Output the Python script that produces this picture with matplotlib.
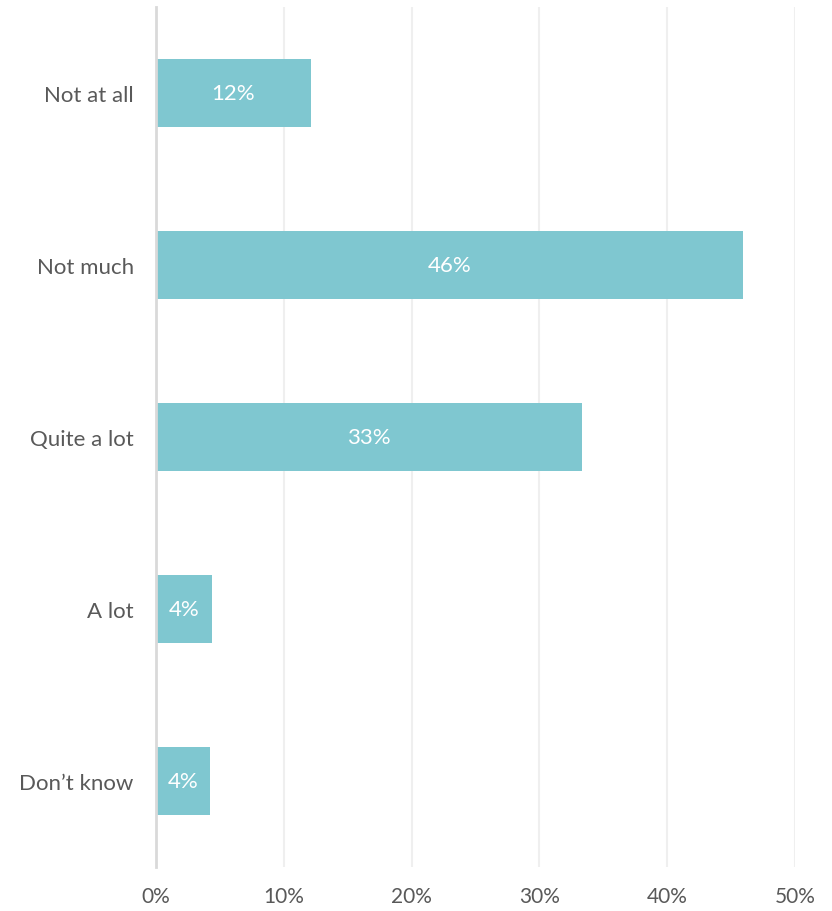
import matplotlib
matplotlib.use("Agg")
import matplotlib.pyplot as plt
from matplotlib.ticker import FuncFormatter

plt.rcParams["font.family"] = ["Lato", "DejaVu Sans"]

categories = ["Not at all", "Not much", "Quite a lot", "A lot", "Don\u2019t know"]
shares = [12.1, 45.9, 33.3, 4.4, 4.2]  # percent of respondents
ticks = [0, 10, 20, 30, 40, 50]

bar_color = "#7FC7D0"
text_color = "#595959"

fig = plt.figure(figsize=(8.32, 9.12), dpi=100)
ax = fig.add_axes([156 / 832, 1 - 868 / 912, (795 - 156) / 832, 860 / 912])

y = range(len(categories))
bars = ax.barh(y, shares, height=0.4, color=bar_color, zorder=2)

for rect, v in zip(bars, shares):
    ax.text(rect.get_x() + rect.get_width() / 2, rect.get_y() + rect.get_height() / 2,
            f"{v:.0f}%", ha="center", va="center", color="white", fontsize=16, zorder=3)

ax.set_xlim(0, 50)
ax.set_ylim(len(categories) - 0.5, -0.5)
ax.set_yticks(list(y))
ax.set_yticklabels(categories)
ax.set_xticks(ticks)
ax.xaxis.set_major_formatter(FuncFormatter(lambda v, _: f"{v:.0f}%"))

ax.grid(axis="x", color="#EFEFEF", linewidth=1.5, zorder=0)
for side in ["top", "right", "bottom"]:
    ax.spines[side].set_visible(False)
ax.spines["left"].set_color("#D9D9D9")
ax.spines["left"].set_linewidth(2)
ax.spines["left"].set_zorder(4)

ax.tick_params(axis="y", length=0, colors=text_color, labelsize=16, pad=16)
ax.tick_params(axis="x", length=0, colors=text_color, labelsize=15, pad=14)

fig.savefig("out.png", dpi=100)
